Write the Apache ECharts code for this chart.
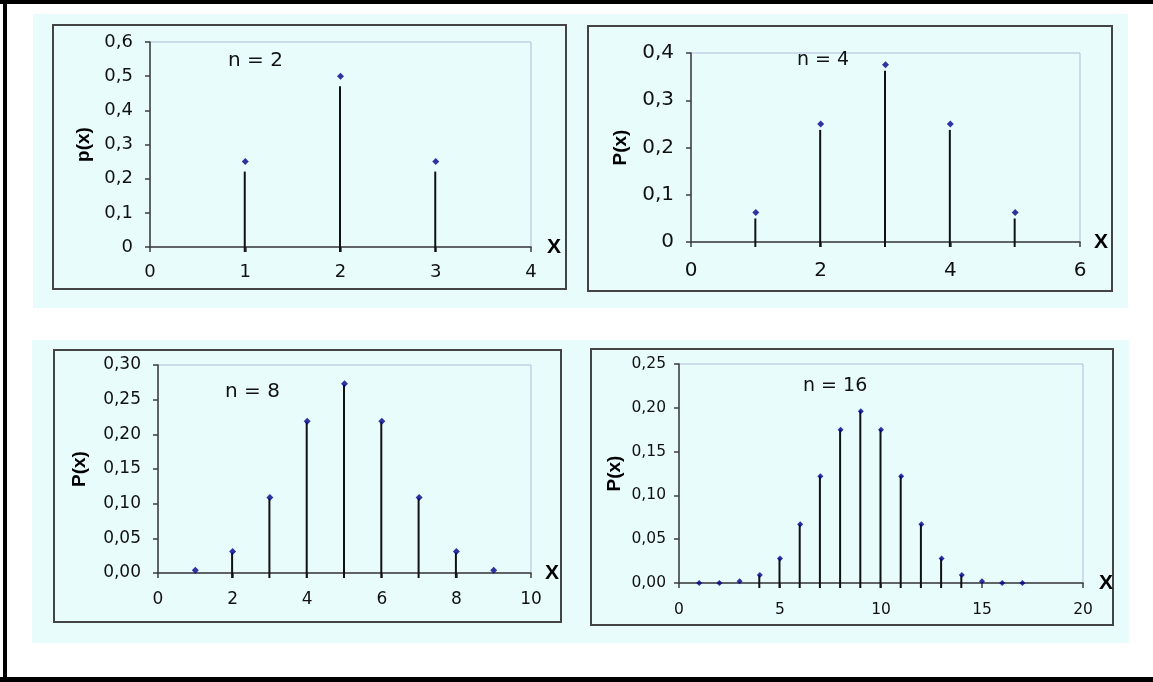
<!DOCTYPE html>
<html lang="en">
<head>
    <meta charset="UTF-8">
    <title>Binomial p(x)</title>
    <script src="https://cdn.jsdelivr.net/npm/echarts@6/dist/echarts.min.js"></script>
    <style>
        html, body { margin: 0; padding: 0; background: #ffffff; }
        #chart { width: 1153px; height: 682px; }
    </style>
</head>
<body>
    <div id="chart"></div>
    <script>
        // data
        const x2 = [1, 2, 3]
        const p2 = [0.25, 0.5, 0.25]

        const x4 = [1, 2, 3, 4, 5]
        const p4 = [0.0625, 0.25, 0.375, 0.25, 0.0625]

        const x8 = [1, 2, 3, 4, 5, 6, 7, 8, 9]
        const p8 = [0.004, 0.031, 0.109, 0.219, 0.273, 0.219, 0.109, 0.031, 0.004]

        const x16 = [1, 2, 3, 4, 5, 6, 7, 8, 9, 10, 11, 12, 13, 14, 15, 16, 17]
        const p16 = [0.000, 0.000, 0.002, 0.009, 0.028, 0.067, 0.122, 0.175, 0.196,
                     0.175, 0.122, 0.067, 0.028, 0.009, 0.002, 0.000, 0.000]

        const titles = ['n = 2', 'n = 4', 'n = 8', 'n = 16']
        const yNames = ['p(x)', 'P(x)', 'P(x)', 'P(x)']
        const xMax = [4, 6, 10, 20]
        const xStep = [1, 2, 2, 5]
        const yMax = [0.6, 0.4, 0.30, 0.25]
        const yStep = [0.1, 0.1, 0.05, 0.05]
        const yDigits = [1, 1, 2, 2]

        // layout of the four panels (pixels)
        const panels = [
            { grid: [150, 42, 381, 205], frame: [53, 25, 513, 264], font: 18, name: [228, 51, 20], yGap: 57, xGap: 16, xPad: [0, 0, -2, 0], lblX: 16, lblY: 17, stemGap: 10 },
            { grid: [691, 53, 389, 189], frame: [588, 26, 524, 265], font: 20, name: [797, 51, 19], yGap: 61, xGap: 14, xPad: [16, 0, 0, 0], lblX: 19, lblY: 17, stemGap: 6 },
            { grid: [158, 365, 373, 208], frame: [54, 350, 507, 272], font: 17, name: [225, 382, 20], yGap: 69, xGap: 14, xPad: [0, 0, 0, 0], lblX: 18, lblY: 17, stemGap: 1 },
            { grid: [679, 364, 404, 219], frame: [591, 349, 522, 276], font: 15.5, name: [803, 377, 19], yGap: 55, xGap: 16, xPad: [0, 0, 12, 0], lblX: 19, lblY: 13, stemGap: 0 }
        ]
        const xsAll = [x2, x4, x8, x16]
        const psAll = [p2, p4, p8, p16]

        const textFont = 'DejaVu Sans'
        const axisColor = '#3c3c3c'

        const grids = [], xAxes = [], yAxes = [], series = []
        const graphics = [
            // black edges of the page
            { type: 'rect', z: -10, shape: { x: 0, y: 0, width: 1153, height: 4 }, style: { fill: '#000' } },
            { type: 'rect', z: -10, shape: { x: 3, y: 0, width: 4, height: 682 }, style: { fill: '#000' } },
            { type: 'rect', z: -10, shape: { x: 0, y: 677, width: 1153, height: 5 }, style: { fill: '#000' } },
            // light cyan backgrounds
            { type: 'rect', z: -9, shape: { x: 33, y: 14, width: 1095, height: 294 }, style: { fill: '#e8fcfc' } },
            { type: 'rect', z: -9, shape: { x: 32, y: 340, width: 1097, height: 303 }, style: { fill: '#e8fcfc' } }
        ]

        panels.forEach(function (pn, i) {
            const g = pn.grid
            grids.push({
                left: g[0], top: g[1], width: g[2], height: g[3],
                show: true, borderColor: '#aebbd9', borderWidth: 1, backgroundColor: 'transparent'
            })
            xAxes.push({
                type: 'value', gridIndex: i, min: 0, max: xMax[i], interval: xStep[i],
                name: 'X', nameLocation: 'end', nameGap: pn.xGap,
                nameTextStyle: { fontFamily: 'Liberation Sans', fontSize: 21, color: '#000', fontWeight: 'bold', padding: pn.xPad, verticalAlign: 'middle' },
                axisLine: { onZero: false, lineStyle: { color: axisColor, width: 1.5 } },
                axisTick: { show: true, length: 5, lineStyle: { color: axisColor, width: 1.5 } },
                axisLabel: { margin: pn.lblX, fontFamily: textFont, fontSize: pn.font, color: '#111' },
                splitLine: { show: false }
            })
            yAxes.push({
                type: 'value', gridIndex: i, min: 0, max: yMax[i], interval: yStep[i],
                name: yNames[i], nameLocation: 'middle', nameRotate: 90, nameGap: pn.yGap,
                nameTextStyle: { fontFamily: 'Liberation Sans', fontSize: 19, color: '#000', fontWeight: 'bold' },
                axisLine: { show: true, lineStyle: { color: axisColor, width: 1.5 } },
                axisTick: { show: true, length: 5, lineStyle: { color: axisColor, width: 1.5 } },
                axisLabel: {
                    margin: pn.lblY, fontFamily: textFont, fontSize: pn.font, color: '#111',
                    formatter: function (v) {
                        if (v === 0 && yDigits[i] === 1) return '0'
                        return v.toFixed(yDigits[i]).replace('.', ',')
                    }
                },
                splitLine: { show: false }
            })

            const pts = xsAll[i].map(function (x, k) { return [x, psAll[i][k]] })

            // stems: from just under the axis up to just under the point
            series.push({
                type: 'custom', xAxisIndex: i, yAxisIndex: i, clip: false, silent: true, z: 3,
                data: pts,
                renderItem: function (params, api) {
                    const top = api.coord([api.value(0), api.value(1)])
                    const base = api.coord([api.value(0), 0])
                    const y1 = top[1] + pn.stemGap
                    if (base[1] - y1 < 4) return { type: 'group', children: [] }
                    return {
                        type: 'line',
                        shape: { x1: top[0] - 0.5, y1: y1, x2: top[0] - 0.5, y2: base[1] + 5 },
                        style: { stroke: '#111', lineWidth: 2 }
                    }
                }
            })
            // points
            series.push({
                type: 'scatter', xAxisIndex: i, yAxisIndex: i, clip: false, z: 4,
                symbol: 'diamond', symbolSize: i === 3 ? 6 : 7,
                itemStyle: { color: '#00008b' },
                data: pts
            })

            const f = pn.frame
            graphics.push({
                type: 'rect', z: -8,
                shape: { x: f[0], y: f[1], width: f[2], height: f[3] },
                style: { fill: 'transparent', stroke: '#444', lineWidth: 2 }
            })
            graphics.push({
                type: 'text', z: 5, left: pn.name[0], top: pn.name[1],
                style: { text: titles[i], fontFamily: textFont, fontSize: pn.name[2], fill: '#111' }
            })
        })

        const myChart = echarts.init(document.getElementById('chart'), null, { renderer: 'canvas' })
        myChart.setOption({
            backgroundColor: '#ffffff',
            animation: false,
            graphic: graphics,
            grid: grids,
            xAxis: xAxes,
            yAxis: yAxes,
            series: series
        })
    </script>
</body>
</html>
